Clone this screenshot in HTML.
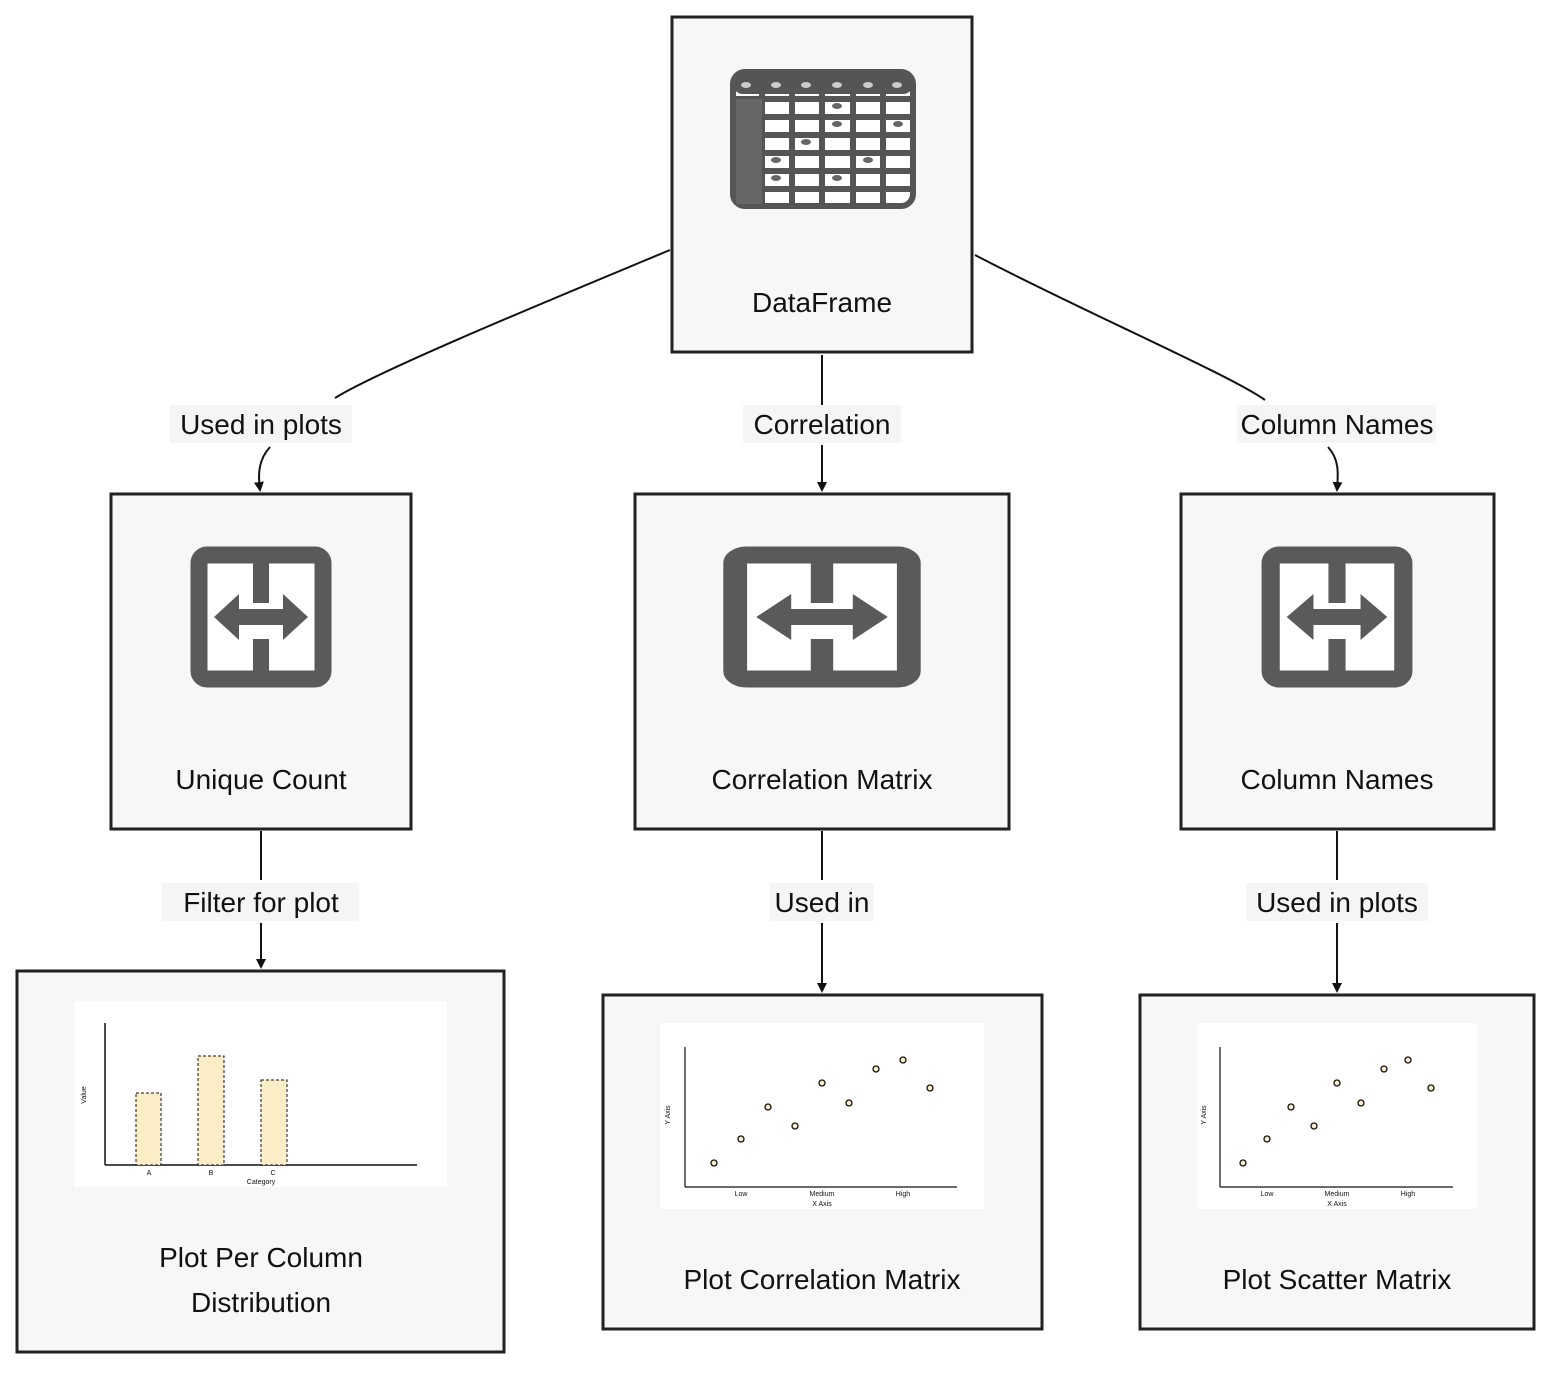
<!DOCTYPE html>
<html><head><meta charset="utf-8"><style>
html,body{margin:0;padding:0;background:#fff;}
svg{display:block;}
text{font-family:"Liberation Sans",sans-serif;fill:#111;}
</style></head><body>
<svg width="1568" height="1384" viewBox="0 0 1568 1384" xmlns="http://www.w3.org/2000/svg">
<defs>
<marker id="ar" markerWidth="10" markerHeight="10" refX="8" refY="5" orient="auto" markerUnits="userSpaceOnUse">
<path d="M0,0 L10,5 L0,10 z" fill="#111"/></marker>
<g id="hicon">
<rect x="-62" y="-62" width="124" height="124" rx="8" fill="#fff" stroke="#5a5a5a" stroke-width="17"/>
<rect x="-8" y="-66" width="16" height="52" fill="#5a5a5a"/>
<rect x="-8" y="22" width="16" height="44" fill="#5a5a5a"/>
<path d="M-47,0 L-22,-23 V-8 H22 V-23 L47,0 L22,23 V8 H-22 V23 z" fill="#5a5a5a"/>
</g>
</defs>

<g fill="#f7f7f7" stroke="#222" stroke-width="3">
<rect x="672" y="17" width="300" height="335"/>
<rect x="111" y="494" width="300" height="335"/>
<rect x="635" y="494" width="374" height="335"/>
<rect x="1181" y="494" width="313" height="335"/>
<rect x="17" y="971" width="487" height="381"/>
<rect x="603" y="995" width="439" height="334"/>
<rect x="1140" y="995" width="394" height="334"/>
</g>

<rect x="733" y="72" width="180" height="134" rx="12" fill="#fff" stroke="#555" stroke-width="6"/>
<rect x="733" y="72" width="180" height="22" rx="10" fill="#555"/>
<g stroke="#555" stroke-width="6">
<line x1="733" y1="117" x2="913" y2="117"/><line x1="733" y1="135" x2="913" y2="135"/>
<line x1="733" y1="153" x2="913" y2="153"/><line x1="733" y1="171" x2="913" y2="171"/>
<line x1="733" y1="189" x2="913" y2="189"/><line x1="733" y1="99" x2="913" y2="99"/>
<line x1="762" y1="94" x2="762" y2="206"/><line x1="792" y1="94" x2="792" y2="206"/>
<line x1="822" y1="94" x2="822" y2="206"/><line x1="853" y1="94" x2="853" y2="206"/>
<line x1="883" y1="94" x2="883" y2="206"/>
</g>
<rect x="736" y="99" width="26" height="105" fill="#666"/>
<g fill="#ccc"><ellipse cx="746" cy="85" rx="5" ry="3"/><ellipse cx="776" cy="85" rx="5" ry="3"/><ellipse cx="806" cy="85" rx="5" ry="3"/><ellipse cx="837" cy="85" rx="5" ry="3"/><ellipse cx="868" cy="85" rx="5" ry="3"/><ellipse cx="897" cy="85" rx="5" ry="3"/></g>
<g fill="#666"><ellipse cx="837" cy="106" rx="5" ry="3"/><ellipse cx="837" cy="124" rx="5" ry="3"/><ellipse cx="898" cy="124" rx="5" ry="3"/><ellipse cx="806" cy="142" rx="5" ry="3"/><ellipse cx="776" cy="160" rx="5" ry="3"/><ellipse cx="868" cy="160" rx="5" ry="3"/><ellipse cx="776" cy="178" rx="5" ry="3"/><ellipse cx="837" cy="178" rx="5" ry="3"/></g>
<text x="822" y="312" font-size="28" text-anchor="middle">DataFrame</text>

<use href="#hicon" transform="translate(261,617)"/>
<use href="#hicon" transform="translate(822,617) scale(1.4,1)"/>
<use href="#hicon" transform="translate(1337,617) scale(1.07,1)"/>

<text x="261" y="789" font-size="28" text-anchor="middle">Unique Count</text>
<text x="822" y="789" font-size="28" text-anchor="middle">Correlation Matrix</text>
<text x="1337" y="789" font-size="28" text-anchor="middle">Column Names</text>

<g fill="none" stroke="#111" stroke-width="2">
<path d="M670,250 C550,300 380,370 335,398"/>
<path d="M270,447 C258,460 258,475 260,490" marker-end="url(#ar)"/>
<path d="M822,355 V405"/><path d="M822,445 V490" marker-end="url(#ar)"/>
<path d="M975,255 C1080,310 1230,375 1265,400"/>
<path d="M1328,447 C1340,460 1338,475 1337,490" marker-end="url(#ar)"/>
<path d="M261,831 V880"/><path d="M261,923 V967" marker-end="url(#ar)"/>
<path d="M822,831 V880"/><path d="M822,923 V991" marker-end="url(#ar)"/>
<path d="M1337,831 V880"/><path d="M1337,923 V991" marker-end="url(#ar)"/>
</g>
<g fill="#f5f5f5">
<rect x="170" y="405" width="182" height="38"/><rect x="743" y="405" width="158" height="38"/><rect x="1237" y="405" width="199" height="38"/>
<rect x="162" y="883" width="197" height="38"/><rect x="770" y="883" width="104" height="38"/><rect x="1246" y="883" width="182" height="38"/>
</g>
<g font-size="28" text-anchor="middle">
<text x="261" y="434">Used in plots</text><text x="822" y="434">Correlation</text><text x="1337" y="434">Column Names</text>
<text x="261" y="912">Filter for plot</text><text x="822" y="912">Used in</text><text x="1337" y="912">Used in plots</text>
</g>

<rect x="74" y="1001" width="373" height="186" fill="#fff"/>
<g stroke="#111" stroke-width="1.5"><line x1="105" y1="1023" x2="105" y2="1165"/><line x1="105" y1="1165" x2="417" y2="1165"/></g>
<g fill="#fbeec7" stroke="#111" stroke-width="1" stroke-dasharray="3,2">
<rect x="136" y="1093" width="25" height="72"/><rect x="198" y="1056" width="26" height="109"/><rect x="261" y="1080" width="26" height="85"/></g>
<g font-size="7" text-anchor="middle"><text x="149" y="1175">A</text><text x="211" y="1175">B</text><text x="273" y="1175">C</text><text x="261" y="1184">Category</text>
<text transform="translate(86,1095) rotate(-90)">Value</text></g>
<text x="261" y="1267" font-size="28" text-anchor="middle">Plot Per Column</text>
<text x="261" y="1312" font-size="28" text-anchor="middle">Distribution</text>

<rect x="660" y="1023" width="324" height="186" fill="#fff"/>
<g stroke="#111" stroke-width="1.2"><line x1="685" y1="1047" x2="685" y2="1187"/><line x1="685" y1="1187" x2="957" y2="1187"/></g>
<g fill="#fbeec7" stroke="#111" stroke-width="1.3">
<circle cx="714" cy="1163" r="3"/><circle cx="741" cy="1139" r="3"/><circle cx="768" cy="1107" r="3"/><circle cx="795" cy="1126" r="3"/><circle cx="822" cy="1083" r="3"/><circle cx="849" cy="1103" r="3"/><circle cx="876" cy="1069" r="3"/><circle cx="903" cy="1060" r="3"/><circle cx="930" cy="1088" r="3"/></g>
<g font-size="7" text-anchor="middle"><text x="741" y="1196">Low</text><text x="822" y="1196">Medium</text><text x="903" y="1196">High</text><text x="822" y="1206">X Axis</text>
<text transform="translate(670,1115) rotate(-90)">Y Axis</text></g>
<text x="822" y="1289" font-size="28" text-anchor="middle">Plot Correlation Matrix</text>

<rect x="1197" y="1023" width="280" height="186" fill="#fff"/>
<g stroke="#111" stroke-width="1.2"><line x1="1220" y1="1047" x2="1220" y2="1187"/><line x1="1220" y1="1187" x2="1453" y2="1187"/></g>
<g fill="#fbeec7" stroke="#111" stroke-width="1.3">
<circle cx="1243" cy="1163" r="3"/><circle cx="1267" cy="1139" r="3"/><circle cx="1291" cy="1107" r="3"/><circle cx="1314" cy="1126" r="3"/><circle cx="1337" cy="1083" r="3"/><circle cx="1361" cy="1103" r="3"/><circle cx="1384" cy="1069" r="3"/><circle cx="1408" cy="1060" r="3"/><circle cx="1431" cy="1088" r="3"/></g>
<g font-size="7" text-anchor="middle"><text x="1267" y="1196">Low</text><text x="1337" y="1196">Medium</text><text x="1408" y="1196">High</text><text x="1337" y="1206">X Axis</text>
<text transform="translate(1206,1115) rotate(-90)">Y Axis</text></g>
<text x="1337" y="1289" font-size="28" text-anchor="middle">Plot Scatter Matrix</text>
</svg>
</body></html>
